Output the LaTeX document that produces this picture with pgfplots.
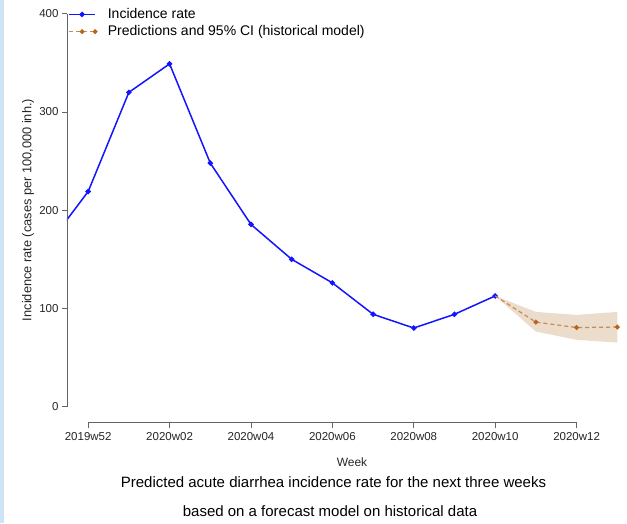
\documentclass[border=0pt]{standalone}
\usepackage{pgfplots}
\pgfplotsset{compat=1.18}
\usepackage{fontspec}
\setmainfont{Liberation Sans}

\definecolor{obs}{RGB}{20,20,255}
\definecolor{pred}{RGB}{181,101,29}
\definecolor{band}{RGB}{235,220,203}
\definecolor{axgray}{RGB}{100,100,100}
\definecolor{strip}{RGB}{205,228,246}

\begin{document}
\begin{tikzpicture}
\begin{axis}[
    scale only axis,
    width=550.3pt, height=408.9pt,
    xmin=-0.52, xmax=13,
    ymin=-16.4, ymax=400,
    clip mode=individual,
    axis line style={draw=none},
    xtick pos=bottom, ytick pos=left,
    tick align=outside,
    major tick length=5pt,
    tick style={axgray, line width=0.8pt},
    xtick={0,2,4,6,8,10,12},
    xticklabels={2019w52,2020w02,2020w04,2020w06,2020w08,2020w10,2020w12},
    ytick={0,100,200,300,400},
    /pgf/number format/assume math mode=true,
    tick label style={font=\fontsize{11.5}{13}\selectfont, text=black!85},
    xticklabel style={yshift=-1pt},
    legend cell align=left,
    legend style={at={(0.002,1.018)}, anchor=north west, draw=none, fill=none,
        inner sep=0pt, row sep=1.5pt, column sep=9pt,
        font=\fontsize{14}{16}\selectfont},
    legend image code/.code={\draw[mark repeat=2,mark phase=2,#1]
        plot coordinates {(0pt,0pt) (13pt,0pt) (26pt,0pt)};},
]
% confidence band
\addplot[draw=none, fill=band, forget plot] coordinates {
    (10,112.7) (11,96.4) (12,93.4) (13,96.4)
    (13,65.2) (12,68.0) (11,76.4) (10,112.7)} -- cycle;

% observed incidence
\addplot[obs, line width=1.5pt, mark=*, mark size=1.9pt] coordinates {
    (-1,164) (0,219) (1,320) (2,349) (3,248) (4,185.5) (5,150)
    (6,126) (7,94) (8,80) (9,94) (10,112.7)};
\addlegendentry{Incidence rate}

% predictions
\addplot[pred!75, line width=1.2pt, dash pattern=on 4pt off 3pt, mark=*, mark size=1.8pt,
    mark options={solid, fill=pred, draw=pred}, mark indices={2,3,4}] coordinates {
    (10,112.7) (11,86) (12,80.5) (13,81)};
\addlegendentry{Predictions and 95\% CI (historical model)}

% detached R-style axis lines
\draw[axgray, line width=0.8pt] (axis cs:-0.52,0) -- (axis cs:-0.52,400);
\draw[axgray, line width=0.8pt] (axis cs:0,-16.4) -- (axis cs:12,-16.4);
\end{axis}

\node[font=\fontsize{12.8}{14}\selectfont, rotate=90, text=black!85]
    at ([xshift=-39pt,yshift=212.7pt]current axis.south west)
    {Incidence rate (cases per 100,000 inh.)};
\node[font=\fontsize{12}{14}\selectfont, text=black!85]
    at ([xshift=285pt,yshift=-39.3pt]current axis.south west) {Week};
\node[font=\fontsize{15}{17}\selectfont]
    at ([xshift=266.5pt,yshift=-59.3pt]current axis.south west)
    {Predicted acute diarrhea incidence rate for the next three weeks};
\node[font=\fontsize{15}{17}\selectfont]
    at ([xshift=263pt,yshift=-88.3pt]current axis.south west)
    {based on a forecast model on historical data};

\pgfresetboundingbox
\path[use as bounding box] ([xshift=-67pt,yshift=-100.3pt]current axis.south west)
    rectangle ++(627pt,523pt);
\fill[strip] ([xshift=-67pt,yshift=-100.3pt]current axis.south west)
    rectangle ++(4pt,523pt);
\end{tikzpicture}
\end{document}
